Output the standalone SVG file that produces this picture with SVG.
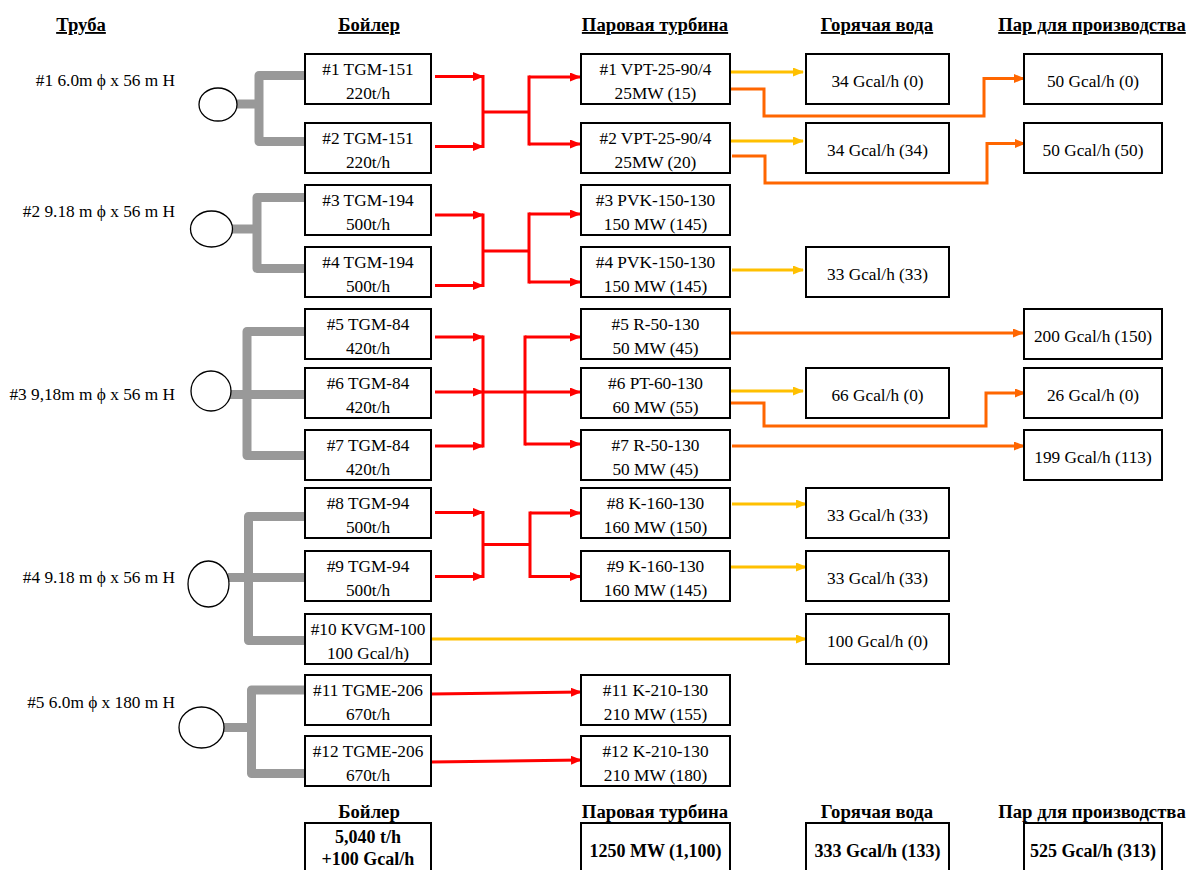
<svg xmlns="http://www.w3.org/2000/svg" width="1189" height="870" viewBox="0 0 1189 870">
<style>
text{font-family:"Liberation Serif","Times New Roman",serif;font-size:17.3px;fill:#000}
.h{font-weight:bold;text-anchor:middle;font-size:18.7px}
.u{text-decoration:underline}
.c{text-anchor:middle}
.e{text-anchor:end}
.b{font-weight:bold;font-size:18px}
.box{fill:#fff;stroke:#000;stroke-width:2}
.pipe{fill:none;stroke:#999;stroke-width:9;stroke-linejoin:round}
.stk{fill:#fff;stroke:#000;stroke-width:1.3}
.r{fill:none;stroke:#ff0000;stroke-width:3}
.y{fill:none;stroke:#ffc000;stroke-width:3}
.o{fill:none;stroke:#ff6600;stroke-width:3}
</style>
<defs>
<marker id="ar" markerUnits="userSpaceOnUse" markerWidth="11" markerHeight="9" refX="10" refY="4.5" orient="auto"><path d="M0,0 L11,4.5 L0,9 z" fill="#ff0000"/></marker>
<marker id="ay" markerUnits="userSpaceOnUse" markerWidth="11" markerHeight="9" refX="10" refY="4.5" orient="auto"><path d="M0,0 L11,4.5 L0,9 z" fill="#ffc000"/></marker>
<marker id="ao" markerUnits="userSpaceOnUse" markerWidth="11" markerHeight="9" refX="10" refY="4.5" orient="auto"><path d="M0,0 L11,4.5 L0,9 z" fill="#ff6600"/></marker>
</defs>
<rect width="1189" height="870" fill="#fff"/>

<g id="headers">
<text class="h u" x="81" y="31">Труба</text>
<text class="h u" x="369" y="31">Бойлер</text>
<text class="h u" x="655" y="31">Паровая турбина</text>
<text class="h u" x="877" y="31">Горячая вода</text>
<text class="h u" x="1092" y="31">Пар для производства</text>
<text class="h" x="369" y="818">Бойлер</text>
<text class="h" x="655" y="818">Паровая турбина</text>
<text class="h" x="877" y="818">Горячая вода</text>
<text class="h" x="1092" y="818">Пар для производства</text>
</g>

<g id="stacks">
<g id="stack1">
<path class="pipe" d="M307,75.5 H259 V141.5 H307 M236,104 H259"/>
<ellipse class="stk" cx="218" cy="104.5" rx="19" ry="16.5"/>
<text class="e" x="175" y="86">#1 6.0m ϕ x 56 m H</text>
</g>
<g id="stack2">
<path class="pipe" d="M307,197.5 H257 V268.5 H307 M231,229 H257"/>
<ellipse class="stk" cx="211.5" cy="229" rx="21" ry="18"/>
<text class="e" x="175" y="217">#2 9.18 m ϕ x 56 m H</text>
</g>
<g id="stack3">
<path class="pipe" d="M307,331.5 H247 V455.5 H307 M230,394.5 H307"/>
<ellipse class="stk" cx="211" cy="391" rx="20" ry="20"/>
<text class="e" x="175" y="400">#3 9,18m m ϕ x 56 m H</text>
</g>
<g id="stack4">
<path class="pipe" d="M307,516.5 H248.5 V640.5 H307 M228,577.5 H307"/>
<ellipse class="stk" cx="208.5" cy="584" rx="20.5" ry="23"/>
<text class="e" x="175" y="583">#4 9.18 m ϕ x 56 m H</text>
</g>
<g id="stack5">
<path class="pipe" d="M307,690 H251.5 V773.5 H307 M223,727.5 H251.5"/>
<ellipse class="stk" cx="201.5" cy="727.5" rx="22.5" ry="20.5"/>
<text class="e" x="175" y="708">#5 6.0m ϕ x 180 m H</text>
</g>
</g>

<g id="connectors">
<path class="r" d="M435,76.5 H483" marker-end="url(#ar)"/>
<path class="r" d="M435,146.5 H483" marker-end="url(#ar)"/>
<path class="r" d="M483,75 V148 M483,112 H529 M529,75.5 V145.5"/>
<path class="r" d="M529,77 H580" marker-end="url(#ar)"/>
<path class="r" d="M529,144 H580" marker-end="url(#ar)"/>
<path class="r" d="M435,215 H483" marker-end="url(#ar)"/>
<path class="r" d="M435,285.5 H483" marker-end="url(#ar)"/>
<path class="r" d="M483,213.5 V287 M483,251 H529 M529,212.5 V283.5"/>
<path class="r" d="M529,214 H580" marker-end="url(#ar)"/>
<path class="r" d="M529,282 H580" marker-end="url(#ar)"/>
<path class="r" d="M435,337 H483" marker-end="url(#ar)"/>
<path class="r" d="M435,392 H483" marker-end="url(#ar)"/>
<path class="r" d="M435,446 H483" marker-end="url(#ar)"/>
<path class="r" d="M483,335.5 V447.5 M483,392 H525 M525,335.5 V445.5"/>
<path class="r" d="M525,337 H580" marker-end="url(#ar)"/>
<path class="r" d="M525,392 H580" marker-end="url(#ar)"/>
<path class="r" d="M525,444 H580" marker-end="url(#ar)"/>
<path class="r" d="M435,512.5 H483" marker-end="url(#ar)"/>
<path class="r" d="M435,576.5 H483" marker-end="url(#ar)"/>
<path class="r" d="M483,511 V578 M483,544.5 H530 M530,511.5 V578"/>
<path class="r" d="M530,513 H580" marker-end="url(#ar)"/>
<path class="r" d="M530,576.5 H580" marker-end="url(#ar)"/>
<path class="r" d="M431,694 L581,692" marker-end="url(#ar)"/>
<path class="r" d="M431,762 L581,760" marker-end="url(#ar)"/>
<path class="y" d="M730,72 H803" marker-end="url(#ay)"/>
<path class="y" d="M730,141 H803" marker-end="url(#ay)"/>
<path class="y" d="M732,270 H803" marker-end="url(#ay)"/>
<path class="y" d="M730,391 H803" marker-end="url(#ay)"/>
<path class="y" d="M732,504 H806" marker-end="url(#ay)"/>
<path class="y" d="M730,567 H806" marker-end="url(#ay)"/>
<path class="y" d="M431,639 H806" marker-end="url(#ay)"/>
<path class="o" d="M730,89 H764 V116 H984 V78.5 H1024" marker-end="url(#ao)"/>
<path class="o" d="M732,156 H765 V183 H987 V143.5 H1025" marker-end="url(#ao)"/>
<path class="o" d="M730,333 H1023" marker-end="url(#ao)"/>
<path class="o" d="M730,403 H764 V426 H986 V393 H1025" marker-end="url(#ao)"/>
<path class="o" d="M732,446 H1024" marker-end="url(#ao)"/>
</g>

<g id="boilers">
<g id="b1"><rect class="box" x="305" y="54" width="126" height="50"/><text class="c" x="368" y="75">#1 TGM-151</text><text class="c" x="368" y="98.5">220t/h</text></g>
<g id="b2"><rect class="box" x="305" y="123" width="126" height="50"/><text class="c" x="368" y="144">#2 TGM-151</text><text class="c" x="368" y="167.5">220t/h</text></g>
<g id="b3"><rect class="box" x="305" y="185" width="126" height="50"/><text class="c" x="368" y="206">#3 TGM-194</text><text class="c" x="368" y="229.5">500t/h</text></g>
<g id="b4"><rect class="box" x="305" y="247" width="126" height="50"/><text class="c" x="368" y="268">#4 TGM-194</text><text class="c" x="368" y="291.5">500t/h</text></g>
<g id="b5"><rect class="box" x="305" y="309" width="126" height="50"/><text class="c" x="368" y="330">#5 TGM-84</text><text class="c" x="368" y="353.5">420t/h</text></g>
<g id="b6"><rect class="box" x="305" y="368" width="126" height="50"/><text class="c" x="368" y="389">#6 TGM-84</text><text class="c" x="368" y="412.5">420t/h</text></g>
<g id="b7"><rect class="box" x="305" y="430" width="126" height="50"/><text class="c" x="368" y="451">#7 TGM-84</text><text class="c" x="368" y="474.5">420t/h</text></g>
<g id="b8"><rect class="box" x="305" y="488" width="126" height="50"/><text class="c" x="368" y="509">#8 TGM-94</text><text class="c" x="368" y="532.5">500t/h</text></g>
<g id="b9"><rect class="box" x="305" y="551" width="126" height="50"/><text class="c" x="368" y="572">#9 TGM-94</text><text class="c" x="368" y="595.5">500t/h</text></g>
<g id="b10"><rect class="box" x="305" y="614" width="126" height="50"/><text class="c" x="368" y="635">#10 KVGM-100</text><text class="c" x="368" y="658.5">100 Gcal/h)</text></g>
<g id="b11"><rect class="box" x="305" y="675" width="126" height="50"/><text class="c" x="368" y="696">#11 TGME-206</text><text class="c" x="368" y="719.5">670t/h</text></g>
<g id="b12"><rect class="box" x="305" y="736" width="126" height="50"/><text class="c" x="368" y="757">#12 TGME-206</text><text class="c" x="368" y="780.5">670t/h</text></g>
</g>

<g id="turbines">
<g id="t1"><rect class="box" x="581" y="54" width="149" height="50"/><text class="c" x="655.5" y="75">#1 VPT-25-90/4</text><text class="c" x="655.5" y="98.5">25MW (15)</text></g>
<g id="t2"><rect class="box" x="581" y="123" width="149" height="50"/><text class="c" x="655.5" y="144">#2 VPT-25-90/4</text><text class="c" x="655.5" y="167.5">25MW (20)</text></g>
<g id="t3"><rect class="box" x="581" y="185" width="149" height="50"/><text class="c" x="655.5" y="206">#3 PVK-150-130</text><text class="c" x="655.5" y="229.5">150 MW (145)</text></g>
<g id="t4"><rect class="box" x="581" y="247" width="149" height="50"/><text class="c" x="655.5" y="268">#4 PVK-150-130</text><text class="c" x="655.5" y="291.5">150 MW (145)</text></g>
<g id="t5"><rect class="box" x="581" y="309" width="149" height="50"/><text class="c" x="655.5" y="330">#5 R-50-130</text><text class="c" x="655.5" y="353.5">50 MW (45)</text></g>
<g id="t6"><rect class="box" x="581" y="368" width="149" height="50"/><text class="c" x="655.5" y="389">#6 PT-60-130</text><text class="c" x="655.5" y="412.5">60 MW (55)</text></g>
<g id="t7"><rect class="box" x="581" y="430" width="149" height="50"/><text class="c" x="655.5" y="451">#7 R-50-130</text><text class="c" x="655.5" y="474.5">50 MW (45)</text></g>
<g id="t8"><rect class="box" x="581" y="488" width="149" height="50"/><text class="c" x="655.5" y="509">#8 K-160-130</text><text class="c" x="655.5" y="532.5">160 MW (150)</text></g>
<g id="t9"><rect class="box" x="581" y="551" width="149" height="50"/><text class="c" x="655.5" y="572">#9 K-160-130</text><text class="c" x="655.5" y="595.5">160 MW (145)</text></g>
<g id="t11"><rect class="box" x="581" y="675" width="149" height="50"/><text class="c" x="655.5" y="696">#11 K-210-130</text><text class="c" x="655.5" y="719.5">210 MW (155)</text></g>
<g id="t12"><rect class="box" x="581" y="736" width="149" height="50"/><text class="c" x="655.5" y="757">#12 K-210-130</text><text class="c" x="655.5" y="780.5">210 MW (180)</text></g>
</g>

<g id="hotwater">
<g id="hw1"><rect class="box" x="806" y="54" width="143" height="50"/><text class="c" x="877.5" y="87">34 Gcal/h (0)</text></g>
<g id="hw2"><rect class="box" x="806" y="123" width="143" height="50"/><text class="c" x="877.5" y="156">34 Gcal/h (34)</text></g>
<g id="hw4"><rect class="box" x="806" y="247" width="143" height="50"/><text class="c" x="877.5" y="280">33 Gcal/h (33)</text></g>
<g id="hw6"><rect class="box" x="806" y="368" width="143" height="50"/><text class="c" x="877.5" y="401">66 Gcal/h (0)</text></g>
<g id="hw8"><rect class="box" x="806" y="488" width="143" height="50"/><text class="c" x="877.5" y="521">33 Gcal/h (33)</text></g>
<g id="hw9"><rect class="box" x="806" y="551" width="143" height="50"/><text class="c" x="877.5" y="584">33 Gcal/h (33)</text></g>
<g id="hw10"><rect class="box" x="806" y="614" width="143" height="50"/><text class="c" x="877.5" y="647">100 Gcal/h (0)</text></g>
</g>

<g id="steam">
<g id="s1"><rect class="box" x="1024" y="54" width="138" height="50"/><text class="c" x="1093" y="87">50 Gcal/h (0)</text></g>
<g id="s2"><rect class="box" x="1024" y="123" width="138" height="50"/><text class="c" x="1093" y="156">50 Gcal/h (50)</text></g>
<g id="s5"><rect class="box" x="1024" y="309" width="138" height="50"/><text class="c" x="1093" y="342">200 Gcal/h (150)</text></g>
<g id="s6"><rect class="box" x="1024" y="368" width="138" height="50"/><text class="c" x="1093" y="401">26 Gcal/h (0)</text></g>
<g id="s7"><rect class="box" x="1024" y="430" width="138" height="50"/><text class="c" x="1093" y="463">199 Gcal/h (113)</text></g>
</g>

<g id="totals">
<g id="tot-boiler"><rect class="box" x="305" y="823" width="126" height="60"/><text class="c b" x="368" y="843">5,040 t/h</text><text class="c b" x="368" y="865">+100 Gcal/h</text></g>
<g id="tot-turbine"><rect class="box" x="581" y="823" width="149" height="60"/><text class="c b" x="655.5" y="857">1250 MW (1,100)</text></g>
<g id="tot-hw"><rect class="box" x="806" y="823" width="143" height="60"/><text class="c b" x="877.5" y="857">333 Gcal/h (133)</text></g>
<g id="tot-steam"><rect class="box" x="1024" y="823" width="138" height="60"/><text class="c b" x="1093" y="857">525 Gcal/h (313)</text></g>
</g>
</svg>
